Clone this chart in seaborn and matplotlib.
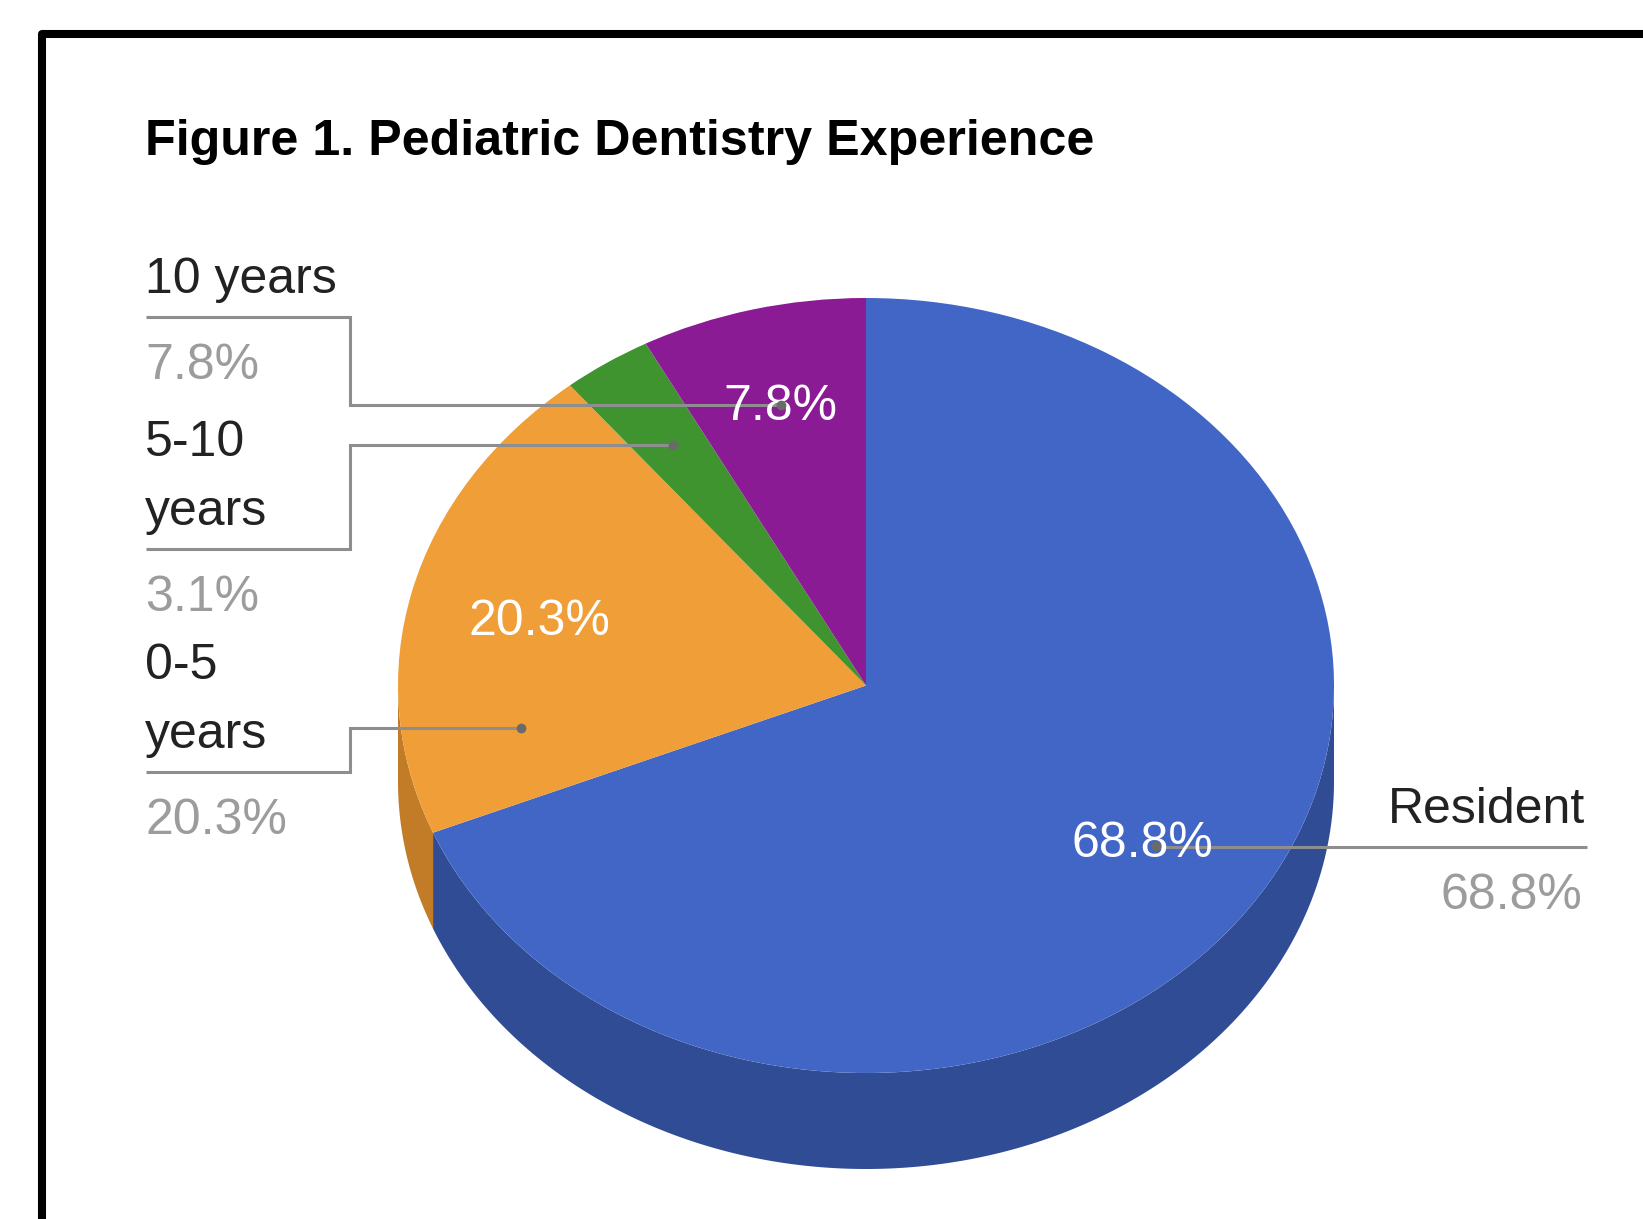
import numpy as np
import matplotlib
matplotlib.use("Agg")
import matplotlib.pyplot as plt
from matplotlib.patches import Polygon
from matplotlib.transforms import Affine2D
import seaborn as sns

# ---- data -------------------------------------------------------------
title = "Figure 1. Pediatric Dentistry Experience"
categories = ["Resident", "0-5\nyears", "5-10\nyears", "10 years"]
shares = [68.8, 20.3, 3.1, 7.8]

top_colors = ["#4166C5", "#EF9E38", "#3F9430", "#8B1A95"]
side_colors = ["#2F4C95", "#C27B27", "#2C6B22", "#64106C"]

# ---- style ------------------------------------------------------------
sns.set_theme(style="white")
plt.rcParams["font.family"] = ["Liberation Sans", "DejaVu Sans"]

W, H, DPI = 1643, 1219, 100
fig = plt.figure(figsize=(W / DPI, H / DPI), dpi=DPI)
ax = fig.add_axes([0, 0, 1, 1])

# tilted-disc geometry in pixel space
cx, cy, rx, ry, depth = 866, 685.5, 468, 387.5, 96
to_disc = Affine2D().scale(rx, -ry).translate(cx, cy) + ax.transData

# top faces from the pie itself, squashed into an ellipse
wedges, _, pct_texts = ax.pie(
    shares, startangle=90, counterclock=False, colors=top_colors,
    autopct=lambda p: f"{p:.1f}%" if p > 5 else "", pctdistance=0.73,
    wedgeprops=dict(linewidth=0, antialiased=True),
    textprops=dict(color="white", fontsize=36))

bounds = np.concatenate([[0], np.cumsum(shares)]) / np.sum(shares) * 360.0
inner_r = [0.71, 0.72, 0.73, 0.755]   # radial spot of the in-slice percentages
for i, (w, t) in enumerate(zip(wedges, pct_texts)):
    w.set_transform(to_disc)
    w.set_zorder(3)
    mid = np.radians(0.5 * (bounds[i] + bounds[i + 1]))
    t.set_position((inner_r[i] * np.sin(mid), inner_r[i] * np.cos(mid)))
    t.set_transform(to_disc)
    t.set_verticalalignment("center_baseline")
    t.set_zorder(6)

ax.set_aspect("auto")
ax.set_xlim(0, W)
ax.set_ylim(H, 0)
ax.axis("off")

# visible outer wall of the disc (front half only)
for i in range(len(shares)):
    a0, a1 = max(bounds[i], 90.0), min(bounds[i + 1], 270.0)
    if a1 <= a0:
        continue
    th = np.radians(np.linspace(a0, a1, 300))
    xs = cx + rx * np.sin(th)
    ys = cy - ry * np.cos(th)
    pts = np.column_stack([np.r_[xs, xs[::-1]], np.r_[ys, ys[::-1] + depth]])
    ax.add_patch(Polygon(pts, closed=True, fc=side_colors[i], ec="none",
                         zorder=2))

# ---- callout labels -----------------------------------------------------
anchor_frac = [0.5, 0.19, 0.5, 0.5]   # where the leader dot sits inside a slice
anchor_r = 0.745
rule_y = [847, 772, 549, 317]
left_x, elbow_x, right_x = 146, 350, 1587
line_gap = 69
lead_col = "#8e8e8e"
name_col = "#222222"
value_col = "#9c9c9c"
fs = 36

for i, (name, share) in enumerate(zip(categories, shares)):
    ang = np.radians(bounds[i] + anchor_frac[i] * (bounds[i + 1] - bounds[i]))
    dx = cx + anchor_r * rx * np.sin(ang)
    dy = cy - anchor_r * ry * np.cos(ang)
    ry_i = rule_y[i]
    value = f"{share / np.sum(shares) * 100:.1f}%"
    lines = name.split("\n")
    if dx > cx:
        # label on the right-hand side
        ax.plot([dx, right_x], [ry_i, ry_i], color=lead_col, lw=2.2,
                zorder=5, solid_capstyle="butt")
        tx, ha = right_x - 2, "right"
    else:
        ax.plot([dx, elbow_x, elbow_x, left_x], [dy, dy, ry_i, ry_i],
                color=lead_col, lw=2.2, zorder=5, solid_joinstyle="miter",
                solid_capstyle="butt")
        tx, ha = left_x - 1, "left"
    ax.plot([dx], [dy], "o", ms=7, color="#6a6a6a", mec="none", zorder=7)
    for k, ln in enumerate(reversed(lines)):
        ax.text(tx, ry_i - 24 - k * line_gap, ln, ha=ha, va="baseline",
                fontsize=fs, color=name_col, zorder=8)
    ax.text(tx - (3 if ha == "right" else 0), ry_i + 62, value, ha=ha,
            va="baseline", fontsize=fs, color=value_col, zorder=8)

# ---- title and frame ----------------------------------------------------
ax.text(145, 155, title, ha="left", va="baseline", fontsize=36.2,
        fontweight="bold", color="black", zorder=8)
ax.plot([42, 42, W + 20], [H + 20, 33.5, 33.5], color="black", lw=5.8,
        solid_joinstyle="round", zorder=9, clip_on=False)

fig.savefig("out.png", dpi=DPI, facecolor="white")
